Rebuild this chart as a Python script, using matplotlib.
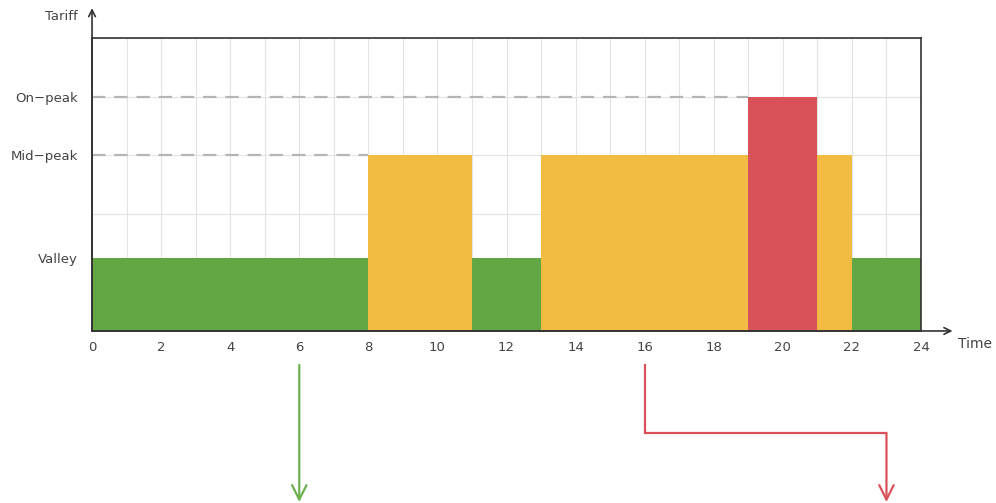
import matplotlib.pyplot as plt

# tariff periods over the day (start hour, end hour, level)
period_start = [0, 8, 11, 13, 19, 21, 22]
period_end = [8, 11, 13, 19, 21, 22, 24]
period_level = ['Valley', 'Mid-peak', 'Valley', 'Mid-peak', 'On-peak', 'Mid-peak', 'Valley']

level_names = ['Valley', 'Mid-peak', 'On-peak']
level_values = [1.25, 3, 4]
level_labels = ['Valley', 'Mid\u2212peak', 'On\u2212peak']
level_colors = {'Valley': '#62a744', 'Mid-peak': '#f1bc41', 'On-peak': '#d9525a'}

x_ticks = list(range(0, 25, 2))

level_y = dict(zip(level_names, level_values))

fig = plt.figure(figsize=(9.96, 5.03), dpi=100)
ax = fig.add_axes([0.0924, 0.342, 0.8323, 0.5825])

# grid
for h in range(25):
    ax.axvline(h, color='#e3e3e3', lw=0.8, zorder=0)
for y in range(1, 6):
    ax.axhline(y, color='#e3e3e3', lw=0.8, zorder=0)

# dashed guides
ax.plot([0, 19], [level_y['On-peak']] * 2, ls=(0, (6, 4)), color='#b5b5b5', lw=1.6, zorder=1)
ax.plot([0, 8], [level_y['Mid-peak']] * 2, ls=(0, (6, 4)), color='#b5b5b5', lw=1.6, zorder=1)

# bars
for s, e, lvl in zip(period_start, period_end, period_level):
    ax.bar(s, level_y[lvl], width=e - s, align='edge', color=level_colors[lvl], lw=0, zorder=2)

ax.set_xlim(0, 24)
ax.set_ylim(0, 5)
ax.set_xticks(x_ticks)
ax.set_yticks(level_values)
ax.set_yticklabels(level_labels)
ax.tick_params(length=0, labelsize=9.5, labelcolor='#444444', pad=7)
ax.tick_params(axis='y', pad=10)
for sp in ax.spines.values():
    sp.set_color('#333333')
    sp.set_linewidth(1.2)
    sp.set_zorder(3)

# axis arrows
ax.annotate('', xy=(0, 1.102), xytext=(0, 0), xycoords='axes fraction',
            arrowprops=dict(arrowstyle='->', color='#333333', lw=1.2, mutation_scale=12,
                            shrinkA=0, shrinkB=0))
ax.annotate('', xy=(1.038, 0), xytext=(0, 0), xycoords='axes fraction',
            arrowprops=dict(arrowstyle='->', color='#333333', lw=1.2, mutation_scale=12,
                            shrinkA=0, shrinkB=0))
ax.text(-0.017, 1.075, 'Tariff', transform=ax.transAxes, ha='right', va='center',
        fontsize=9.5, color='#444444')
ax.text(1.045, -0.045, 'Time', transform=ax.transAxes, ha='left', va='center',
        fontsize=10, color='#444444')

# arrows below the chart
ax.annotate('', xy=(6, -2.92), xytext=(6, -0.58), xycoords='data', annotation_clip=False,
            arrowprops=dict(arrowstyle='->', color='#6cb04f', lw=1.6, mutation_scale=26,
                            shrinkA=0, shrinkB=0))
ax.plot([16, 16, 23], [-0.58, -1.74, -1.74], color='#d9525a', lw=1.6, clip_on=False,
        solid_joinstyle='miter')
ax.annotate('', xy=(23, -2.92), xytext=(23, -1.74), xycoords='data', annotation_clip=False,
            arrowprops=dict(arrowstyle='->', color='#d9525a', lw=1.6, mutation_scale=26,
                            shrinkA=0, shrinkB=0))

plt.savefig('out.png', dpi=100)
